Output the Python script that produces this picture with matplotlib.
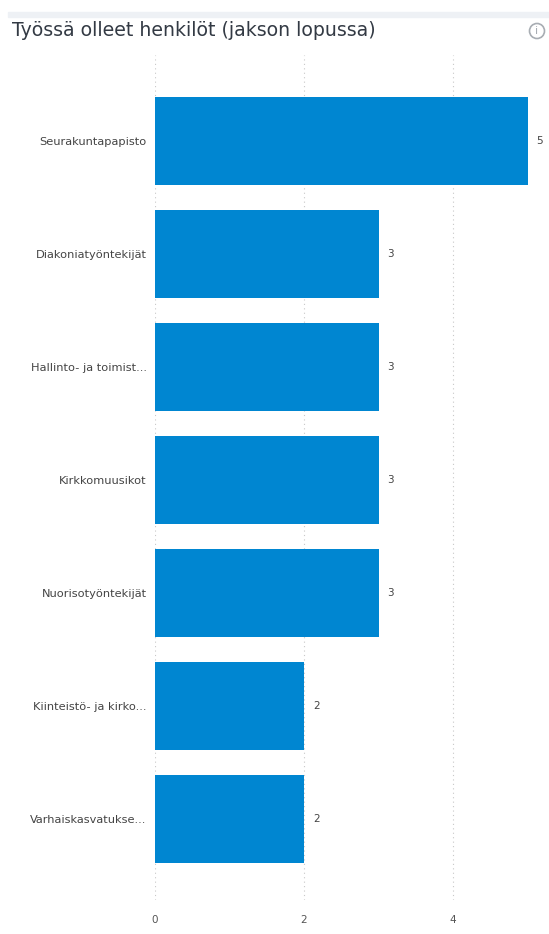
import matplotlib.pyplot as plt
from matplotlib.patches import Rectangle, Ellipse

categories = [
    "Seurakuntapapisto",
    "Diakoniatyöntekijät",
    "Hallinto- ja toimist...",
    "Kirkkomuusikot",
    "Nuorisotyöntekijät",
    "Kiinteistö- ja kirko...",
    "Varhaiskasvatukse...",
]
values = [5, 3, 3, 3, 3, 2, 2]
xticks = [0, 2, 4]

plt.rcParams['font.family'] = ['DejaVu Sans']

fig = plt.figure(figsize=(5.49, 9.34), dpi=100)
W, H = 549, 934

# top strip
fig.patches.append(Rectangle((8 / W, 1 - 17 / H), 1, 5 / H, transform=fig.transFigure,
                             color="#eef1f5", zorder=0))
fig.text(12 / W, 1 - 30 / H, "Työssä olleet henkilöt (jakson lopussa)",
         fontsize=13.6, color="#333a44", va="center", ha="left")
# info icon
fig.patches.append(Ellipse((537 / W, 1 - 31 / H), 15 / W, 15 / H, transform=fig.transFigure,
                           fill=False, edgecolor="#a8adb3", linewidth=1.2))
fig.text(537 / W, 1 - 31 / H, "i", fontsize=8, color="#a8adb3", ha="center", va="center")

ax = fig.add_axes([155 / W, 1 - 900 / H, (542 - 155) / W, 845 / H])
y = list(range(len(categories)))
ax.barh(y, values, height=0.78, color="#0086d1", zorder=2)
ax.set_ylim(len(categories) - 0.28, -0.76)
ax.set_xlim(0, (542 - 155) / 74.5)

for yi, v in zip(y, values):
    ax.text(v + 0.12, yi, str(v), va="center", ha="left", fontsize=7.5, color="#444444")

ax.set_yticks(y)
ax.set_yticklabels(categories, fontsize=8.2, color="#444444")
ax.set_xticks(xticks)
ax.set_xticklabels([str(t) for t in xticks], fontsize=7.5, color="#555555")
ax.tick_params(length=0, axis="y", pad=6)
ax.tick_params(length=0, axis="x", pad=11)
ax.grid(axis="x", linestyle=(0, (1, 3)), color="#c8c8c8", linewidth=0.8, zorder=0)
for s in ax.spines.values():
    s.set_visible(False)

fig.savefig("out.png", dpi=100)
